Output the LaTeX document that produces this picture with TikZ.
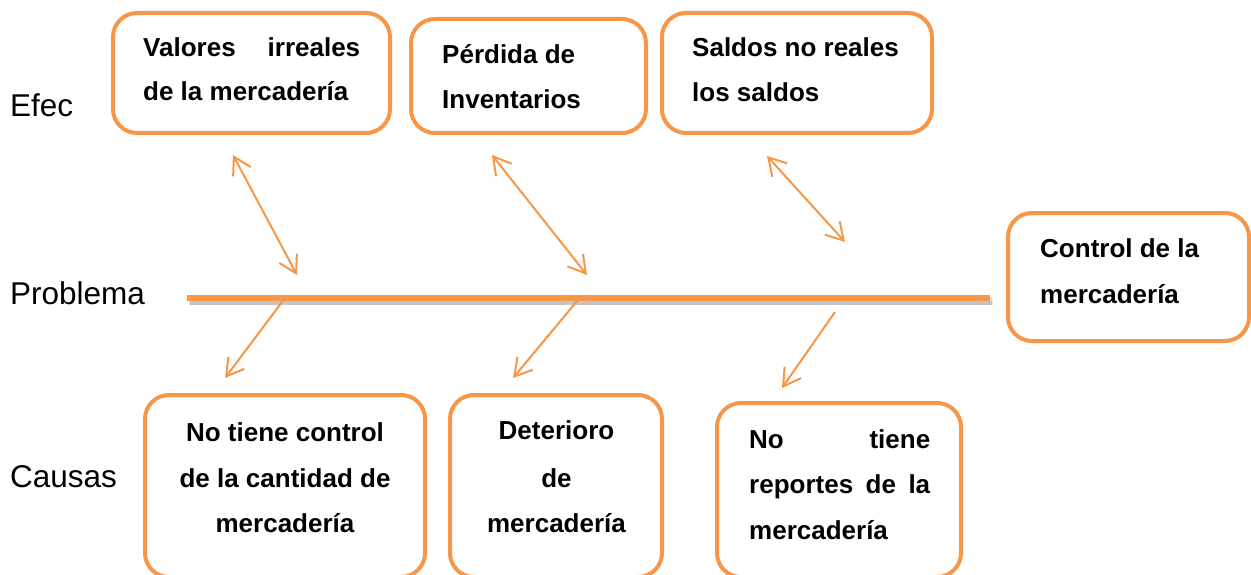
\documentclass[tikz,border=0pt]{standalone}
\usepackage{fontspec}
\setmainfont{Liberation Sans}
\usetikzlibrary{arrows.meta}
\definecolor{orng}{HTML}{F79646}
\begin{document}
\begin{tikzpicture}[x=1pt,y=-1pt,
  box/.style={draw=orng, line width=4pt, rounded corners=24pt, inner sep=0pt},
  btxt/.style={font=\bfseries\fontsize{26}{44}\selectfont, anchor=base west, inner sep=0pt},
  ctxt/.style={font=\bfseries\fontsize{26}{44}\selectfont, anchor=base, inner sep=0pt},
  lbl/.style={font=\fontsize{31.5}{36}\selectfont, anchor=base west, inner sep=0pt},
  dbl/.style={draw=orng, line width=2pt, {Straight Barb[length=17pt,width=20pt]}-{Straight Barb[length=17pt,width=20pt]}},
  sgl/.style={draw=orng, line width=2pt, -{Straight Barb[length=17pt,width=20pt]}},
  shade/.style={black, line width=#1, opacity=0.12}
]
\useasboundingbox (0,0) rectangle (1251,575);

% labels
\node[lbl] (lefec) at (10,117) {Efec};
\node[lbl] (lprob) at (10,304) {Problema};
\node[lbl] (lcaus) at (10,487) {Causas};

% main line with soft shadow
\coordinate (ls) at (187,298);
\coordinate (le) at (990,298);
\coordinate (lss) at (189,301);
\coordinate (les) at (992,301);
\coordinate (lts) at (190,303);
\coordinate (lte) at (993,303);
\draw[shade=8pt] (lss) -- (les);
\draw[shade=4pt] (lts) -- (lte);
\draw[orng, line width=6pt] (ls) -- (le);

% boxes
\node[box, minimum width=277pt, minimum height=120pt] (b1) at (251.5,73) {};
\node[box, minimum width=235pt, minimum height=114pt] (b2) at (528.5,76) {};
\node[box, minimum width=270pt, minimum height=120pt] (b3) at (797,73) {};
\node[box, minimum width=241pt, minimum height=128pt] (b4) at (1128.5,277) {};
\node[box, minimum width=280pt, minimum height=182pt] (b5) at (285,486) {};
\node[box, minimum width=212pt, minimum height=182pt] (b6) at (556,486) {};
\node[box, minimum width=244pt, minimum height=174pt] (b7) at (839,490) {};

% texts
\node[btxt] (t1a) at (143,57) {\makebox[217pt][s]{Valores irreales}};
\node[btxt] (t1b) at (143,101) {de la mercadería};
\node[btxt] (t2a) at (442,64) {Pérdida de};
\node[btxt] (t2b) at (442,109) {Inventarios};
\node[btxt] (t3a) at (692,57) {Saldos no reales};
\node[btxt] (t3b) at (692,102) {los saldos};
\node[btxt] (t4a) at (1040,257) {Control de la};
\node[btxt] (t4b) at (1040,303) {mercadería};
\node[ctxt] (t5a) at (285,441) {No tiene control};
\node[ctxt] (t5b) at (285,487) {de la cantidad de};
\node[ctxt] (t5c) at (285,532) {mercadería};
\node[ctxt] (t6a) at (556.5,439) {Deterioro};
\node[ctxt] (t6b) at (556.5,487) {de};
\node[ctxt] (t6c) at (556.5,532) {mercadería};
\node[btxt] (t7a) at (749,448) {\makebox[181pt][s]{No tiene}};
\node[btxt] (t7b) at (749,493) {\makebox[181pt][s]{reportes de la}};
\node[btxt] (t7c) at (749,539) {mercadería};

% arrows
\coordinate (a1s) at (233,155); \coordinate (a1e) at (297,275);
\coordinate (a2s) at (492,155); \coordinate (a2e) at (587,275);
\coordinate (a3s) at (767,156); \coordinate (a3e) at (845,242);
\draw[dbl] (a1s) -- (a1e);
\draw[dbl] (a2s) -- (a2e);
\draw[dbl] (a3s) -- (a3e);
\coordinate (c1s) at (285,298); \coordinate (c1e) at (225,378);
\coordinate (c2s) at (578,300); \coordinate (c2e) at (513,378);
\coordinate (c3s) at (835,312); \coordinate (c3e) at (782,388);
\draw[sgl] (c1s) -- (c1e);
\draw[sgl] (c2s) -- (c2e);
\draw[sgl] (c3s) -- (c3e);
\end{tikzpicture}
\end{document}
